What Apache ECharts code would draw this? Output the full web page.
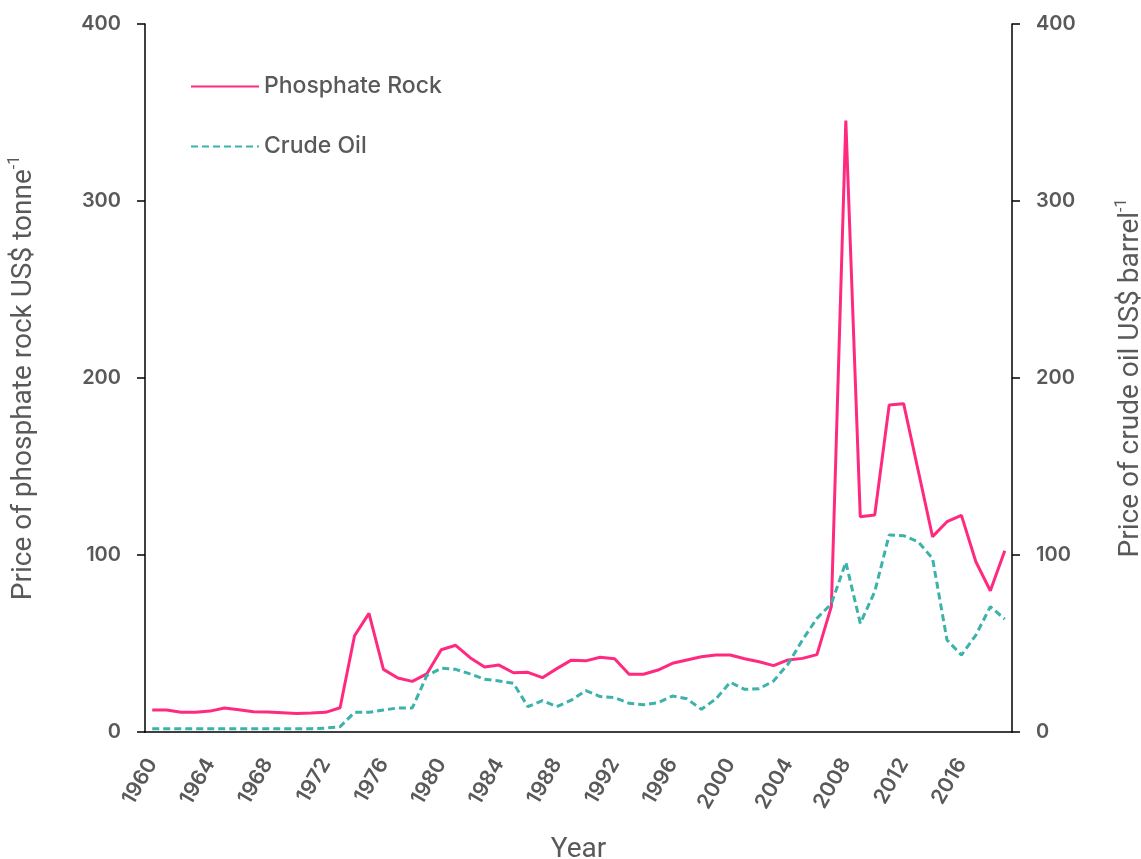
<!DOCTYPE html>
<html>
<head>
<meta charset="utf-8">
<title>Phosphate rock and crude oil prices</title>
<script src="https://cdn.jsdelivr.net/npm/echarts@6/dist/echarts.min.js"></script>
<style>
  html, body { margin: 0; padding: 0; background: #fff; }
  #chart { width: 1141px; height: 859px; }
</style>
</head>
<body>
<div id="chart"></div>
<script>
// years on the x axis, one point per year
var years = [
  '1960', '1961', '1962', '1963', '1964', '1965', '1966', '1967', '1968', '1969',
  '1970', '1971', '1972', '1973', '1974', '1975', '1976', '1977', '1978', '1979',
  '1980', '1981', '1982', '1983', '1984', '1985', '1986', '1987', '1988', '1989',
  '1990', '1991', '1992', '1993', '1994', '1995', '1996', '1997', '1998', '1999',
  '2000', '2001', '2002', '2003', '2004', '2005', '2006', '2007', '2008', '2009',
  '2010', '2011', '2012', '2013', '2014', '2015', '2016', '2017', '2018', '2019'
]

// US$ per tonne
var phosphateRock = [
  12.4, 12.4, 11.1, 11.1, 11.8, 13.6, 12.6, 11.5, 11.3, 10.9,
  10.5, 10.7, 11.1, 13.7, 54.4, 67.0, 35.4, 30.5, 28.6, 32.8,
  46.5, 49.0, 42.0, 36.7, 37.8, 33.5, 33.7, 30.7, 35.8, 40.6,
  40.2, 42.2, 41.4, 32.6, 32.6, 35.0, 38.8, 40.7, 42.5, 43.5,
  43.5, 41.4, 39.7, 37.5, 40.7, 41.6, 43.7, 71.0, 345.4, 121.6,
  122.6, 184.7, 185.5, 148.0, 110.4, 118.8, 122.4, 96.2, 79.8, 102.4
]

// US$ per barrel
var crudeOil = [
  1.8, 1.8, 1.8, 1.8, 1.8, 1.8, 1.8, 1.8, 1.8, 1.8,
  1.8, 1.9, 2.2, 3.0, 11.1, 11.1, 12.4, 13.6, 13.6, 31.8,
  36.0, 35.4, 32.8, 29.8, 28.8, 27.5, 14.3, 17.7, 14.3, 18.0,
  23.4, 20.0, 19.4, 16.2, 15.4, 16.6, 20.3, 18.8, 12.8, 18.6,
  28.1, 24.1, 24.5, 28.8, 38.4, 52.0, 64.2, 72.5, 95.9, 61.4,
  79.3, 111.3, 110.9, 107.5, 98.1, 52.0, 43.5, 54.8, 70.8, 63.8
]

var textColor = '#595959'
var pink = '#ff2a7f'
var teal = '#3bb3aa'

var chart = echarts.init(document.getElementById('chart'))

var axisCommon = {
  type: 'value',
  min: 0,
  max: 400,
  interval: 100,
  nameLocation: 'middle',
  nameRotate: 90,
  nameGap: 104,
  nameMoveOverlap: false,
  nameTextStyle: {
    fontFamily: 'Roboto',
    fontSize: 28,
    color: textColor,
    rich: {
      sup: { fontFamily: 'Roboto', fontSize: 16, color: textColor, verticalAlign: 'top', lineHeight: 34 }
    }
  },
  axisLine: { show: true, lineStyle: { color: '#000', width: 1.5 } },
  axisTick: { show: true, length: 8, lineStyle: { color: '#000', width: 1.5 } },
  axisLabel: { fontFamily: 'Inter', fontSize: 20, fontWeight: 600, color: textColor, margin: 24 },
  splitLine: { show: false }
}

chart.setOption({
  animation: false,
  grid: {
    left: 145,
    right: 129,
    top: 24,
    bottom: 127,
    outerBoundsMode: 'none',
    containLabel: false
  },
  legend: {
    left: 190,
    top: 75,
    padding: 0,
    orient: 'vertical',
    itemWidth: 68,
    itemHeight: 22,
    itemGap: 37,
    itemStyle: { opacity: 0 },
    textStyle: { fontFamily: 'Inter', fontSize: 23, color: textColor, fontWeight: 500 },
    data: ['Phosphate Rock', 'Crude Oil']
  },
  xAxis: {
    type: 'category',
    data: years,
    boundaryGap: true,
    name: 'Year',
    nameLocation: 'middle',
    nameGap: 104,
    nameMoveOverlap: false,
    nameTextStyle: { fontFamily: 'Roboto', fontSize: 28, color: textColor },
    axisLine: { lineStyle: { color: '#000', width: 1.5 } },
    axisTick: { interval: 3, length: 8, lineStyle: { color: '#000', width: 1.5 } },
    axisLabel: {
      interval: 3,
      rotate: 60,
      margin: 28,
      fontFamily: 'Inter',
      fontSize: 21,
      fontWeight: 600,
      color: textColor
    }
  },
  yAxis: [
    Object.assign({}, axisCommon, {
      position: 'left',
      name: 'Price of phosphate rock US$ tonne{sup|-1}'
    }),
    Object.assign({}, axisCommon, {
      position: 'right',
      name: 'Price of crude oil US$ barrel{sup|-1}',
      nameGap: 102
    })
  ],
  series: [
    {
      name: 'Phosphate Rock',
      type: 'line',
      data: phosphateRock,
      yAxisIndex: 0,
      symbol: 'none',
      itemStyle: { color: pink },
      lineStyle: { color: pink, width: 3 }
    },
    {
      name: 'Crude Oil',
      type: 'line',
      data: crudeOil,
      yAxisIndex: 1,
      symbol: 'none',
      itemStyle: { color: teal },
      lineStyle: { color: teal, width: 3, type: [7, 4] }
    }
  ]
})
</script>
</body>
</html>
